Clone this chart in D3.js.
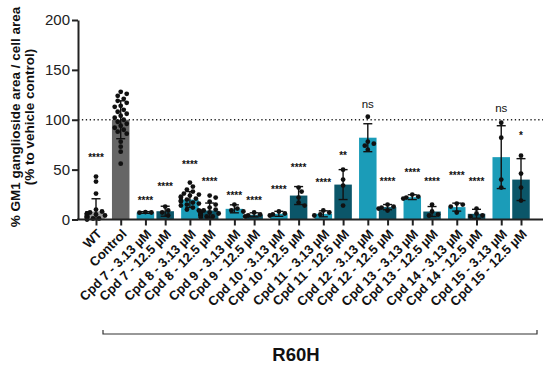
<!DOCTYPE html>
<html><head><meta charset="utf-8">
<script src="https://cdn.jsdelivr.net/npm/d3@7"></script>
<style>body{margin:0;background:#fff;}svg{display:block;}</style>
</head><body>
<svg id="chart" width="550" height="369"></svg>
<script>
const categories = ["WT","Control",
 "Cpd 7 - 3.13 µM","Cpd 7 - 12.5 µM","Cpd 8 - 3.13 µM","Cpd 8 - 12.5 µM",
 "Cpd 9 - 3.13 µM","Cpd 9 - 12.5 µM","Cpd 10 - 3.13 µM","Cpd 10 - 12.5 µM",
 "Cpd 11 - 3.13 µM","Cpd 11 - 12.5 µM","Cpd 12 - 3.13 µM","Cpd 12 - 12.5 µM",
 "Cpd 13 - 3.13 µM","Cpd 13 - 12.5 µM","Cpd 14 - 3.13 µM","Cpd 14 - 12.5 µM",
 "Cpd 15 - 3.13 µM","Cpd 15 - 12.5 µM"];
const means = [8,100,7,8.3,20,9,10.7,4.7,5.7,24,5.7,35,82,12.4,22.4,8,12.4,5.7,62.5,40];
const sds   = [12.8,19,0.8,5,8,7.5,4,2,2.5,9,3,15,14,2.6,2.4,5,4,4.5,31.5,21];
const points = [
 [43,38,26,10,8,7,6,6,5,5,4,4,3,3,2,2,1,1,0.5,0],
 [128,126,124,121,119,117,114,113,110,108,106,104,102,100,98,96,94,92,90,88,86,78,73,68,56],
 [7.4,7,6.8],
 [13,9,7,4],
 [37,33,30,28,26,25,24,23,22,21,20,19,18,17,16,15,14,12,10,9],
 [24,22,18,15,12,10,9,8,7,6,6,5,5,4,4,3,3,2],
 [15,11,9,8],
 [7,5,4,3],
 [8,6,5,4],
 [32,28,22,17,14],
 [9,7,5,4],
 [50,40,34,14],
 [103,78,76,74,70],
 [15,13,12,11,9],
 [25,23,22,21],
 [15,8,5,4],
 [16,15,13,7],
 [11,6,4,3],
 [97,82,40,32],
 [64,46,32,19]
];
const sigLabels  = ["****","","****","****","****","****","****","****","****","****","****","**","ns","****","****","****","****","****","ns","*"];
const sigHeights = [64,0,21,35,57,40,26,21,32,54,39,66.5,115,40,49,40,46.5,40,111,86.6];
const yTicks = [0,50,100,150,200];
const refLine = 100;
const groupLabel = "R60H";
const yTitle1 = "% GM1 ganglioside area / cell area";
const yTitle2 = "(% to vehicle control)";

const colors = {wt:"#9c9c9c", ctrl:"#666666", low:"#1b9cb8", high:"#0b5669"};
function kind(c){ if(c==="WT") return "wt"; if(c==="Control") return "ctrl"; return c.includes("3.13")?"low":"high"; }
function slot(i){ if(i===0) return 0; if(i===1) return 1.25; const k=Math.floor((i-2)/2), j=(i-2)%2; return 2.5+2.25*k+j; }

const svg = d3.select("#chart");
const y = d3.scaleLinear().domain([0,200]).range([219.5,20]);
const xs = d3.scaleLinear().domain([0,21.5]).range([96,521]);
const x = d3.scaleOrdinal().domain(categories).range(categories.map((c,i)=>xs(slot(i))));
const bw = 17.5;
const axisLeftX = 78, axisRightX = 543;
const font = "'Liberation Sans', Arial, Helvetica, sans-serif";

// reference dotted line
svg.append("line").attr("x1",axisLeftX).attr("x2",axisRightX).attr("y1",y(refLine)).attr("y2",y(refLine))
  .attr("stroke","#222").attr("stroke-width",1.3).attr("stroke-dasharray","1.3,2.6");

// bars
const data = categories.map((c,i)=>({c,i,m:means[i],sd:sds[i],pts:points[i],sig:sigLabels[i],sh:sigHeights[i]}));
svg.append("g").selectAll("rect").data(data).join("rect")
  .attr("x",d=>x(d.c)-bw/2).attr("width",bw)
  .attr("y",d=>y(d.m)).attr("height",d=>y(0)-y(d.m))
  .attr("fill",d=>colors[kind(d.c)]);

// points (deterministic spread)
const r = 2.4;
const gp = svg.append("g");
data.forEach(d=>{
  const placed=[];
  const offs=[0,3,-3,6,-6,9,-9];
  d.pts.forEach(v=>{
    const py=y(v); let ox=0;
    for(const o of offs){ if(placed.every(p=>Math.hypot(p[0]-o,p[1]-py)>=2*r*0.95)){ox=o;break;} ox=o; }
    placed.push([ox,py]);
  });
  gp.selectAll(null).data(placed).join("circle")
    .attr("cx",p=>x(d.c)+p[0]).attr("cy",p=>p[1]).attr("r",r).attr("fill","#111");
});

// error bars
const ge = svg.append("g").attr("stroke","#111").attr("stroke-width",1.4).attr("fill","none");
data.forEach(d=>{
  const cx=x(d.c), top=y(d.m+d.sd), bot=y(Math.max(0,d.m-d.sd));
  ge.append("line").attr("x1",cx).attr("x2",cx).attr("y1",top).attr("y2",bot);
  ge.append("line").attr("x1",cx-4.5).attr("x2",cx+4.5).attr("y1",top).attr("y2",top);
  ge.append("line").attr("x1",cx-4.5).attr("x2",cx+4.5).attr("y1",bot).attr("y2",bot);
});

// significance labels
svg.append("g").selectAll("text").data(data.filter(d=>d.sig)).join("text")
  .attr("x",d=>x(d.c)).attr("y",d=>y(d.sh)+(d.sig==="ns"?3.5:5.5))
  .attr("text-anchor","middle").attr("font-family",font)
  .attr("font-size",d=>d.sig==="ns"?"11.5px":"10px")
  .attr("font-weight",d=>d.sig==="ns"?"normal":"bold")
  .attr("fill","#111").text(d=>d.sig);

// y axis
const ya = svg.append("g").attr("transform",`translate(${axisLeftX},0)`)
  .call(d3.axisLeft(y).tickValues(yTicks).tickSize(6).tickSizeOuter(0).tickPadding(2));
ya.select(".domain").attr("stroke","#222").attr("stroke-width",2);
ya.selectAll(".tick line").attr("stroke","#222").attr("stroke-width",2);
ya.selectAll(".tick text").attr("font-family",font).attr("font-size","15px").attr("fill","#222");

// x axis
const xa = svg.append("g").attr("transform",`translate(0,${y(0)})`)
  .call(d3.axisBottom(x).tickSize(6).tickSizeOuter(0));
xa.select(".domain").remove();
xa.append("line").attr("x1",axisLeftX-1).attr("x2",axisRightX).attr("y1",0).attr("y2",0).attr("stroke","#222").attr("stroke-width",2);
xa.selectAll(".tick line").attr("stroke","#222").attr("stroke-width",2);
xa.selectAll(".tick text")
  .attr("font-family",font).attr("font-size","13px").attr("font-weight","bold").attr("fill","#111")
  .attr("text-anchor","end").attr("dy","0.35em")
  .attr("transform","translate(3,12) rotate(-45)").attr("y",0).attr("x",0);

// y title
const yt = svg.append("text").attr("transform","translate(20,117) rotate(-90)")
  .attr("text-anchor","middle").attr("font-family",font).attr("font-weight","bold").attr("font-size","13.5px").attr("fill","#111");
yt.append("tspan").attr("x",0).attr("dy",0).text(yTitle1);
yt.append("tspan").attr("x",0).attr("dy","1.05em").text(yTitle2);

// bracket
svg.append("path").attr("d",`M103,330 V334 H537 V330`).attr("fill","none").attr("stroke","#333").attr("stroke-width",1.2);
svg.append("text").attr("x",296).attr("y",361).attr("text-anchor","middle").attr("font-family",font)
  .attr("font-weight","bold").attr("font-size","18.5px").attr("fill","#111").text(groupLabel);
</script>
</body></html>
